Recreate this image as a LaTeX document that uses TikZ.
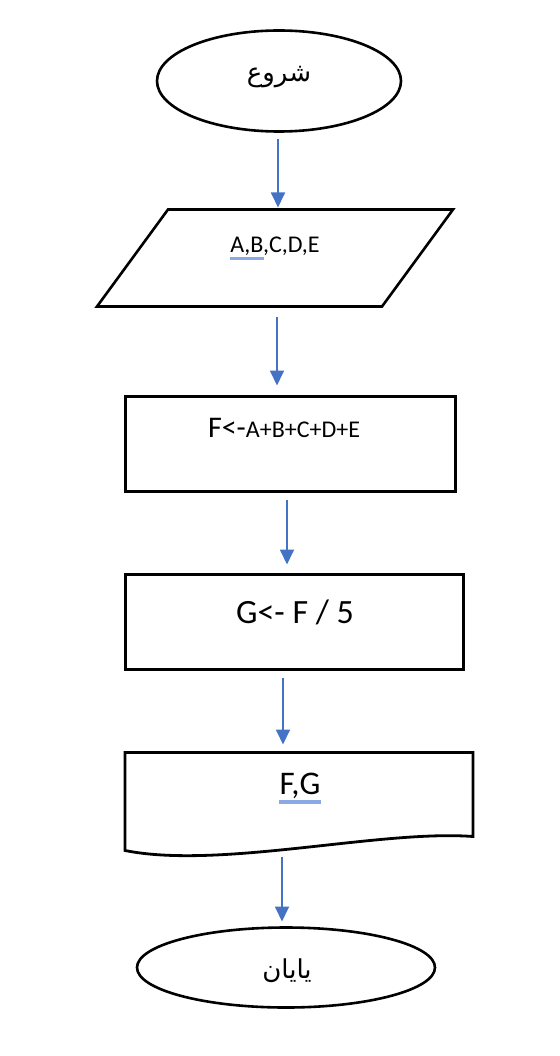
\documentclass[tikz,border=0pt]{standalone}
\usepackage{fontspec}
\setmainfont{Carlito}
\newfontfamily\arabicfont[Script=Arabic]{DejaVu Sans}
\TeXXeTstate=1
\usetikzlibrary{arrows.meta,positioning,shapes.geometric}
\definecolor{FlowBlue}{HTML}{4472C4}
\definecolor{SpellBlue}{HTML}{8AAAE5}

\begin{document}
\begin{tikzpicture}[
    terminal/.style={draw=black,ellipse,line width=2.6pt,inner sep=0pt,outer sep=0pt},
    ioshape/.style={rectangle,minimum width=356pt,minimum height=97pt,inner sep=0pt,outer sep=0pt},
    process/.style={draw=black,rectangle,line width=3pt,minimum height=95pt,inner sep=0pt,outer sep=0pt},
    docbox/.style={rectangle,minimum width=348pt,minimum height=84pt,inner sep=0pt,outer sep=0pt},
    lbl/.style={inner sep=0pt,font=\fontsize{24}{27}\selectfont},
    arlbl/.style={inner sep=0pt,font=\arabicfont\fontsize{26}{30}\selectfont},
    flow/.style={-{Triangle[length=15pt,width=14pt]},line width=1.8pt,FlowBlue},
    squig/.style={SpellBlue,line width=2.5pt}
  ]
    \useasboundingbox (0,0) rectangle (559pt,-1056pt);

    \node[terminal,minimum width=244pt,minimum height=101pt] (start) at (279pt,-81pt) {};
    \node[ioshape,below=78pt of start,xshift=-4pt] (in) {};
    \node[process,below=90pt of in,xshift=15pt,minimum width=330pt] (calc1) {};
    \node[process,below=83pt of calc1,xshift=4pt,minimum width=338pt] (calc2) {};
    \node[docbox,below=83pt of calc2,xshift=5pt] (out) {};
    \node[terminal,below=91pt of out,xshift=-13pt,minimum width=298pt,minimum height=80pt] (stop) {};

    % slanted input box
    \draw[line width=2.6pt,line join=miter] ([xshift=71pt]in.north west) -- (in.north east) -- ([xshift=-71pt]in.south east) -- (in.south west) -- cycle;
    % wavy bottom of the output box
    \draw[line width=2.8pt] ([yshift=-14pt]out.south west) -- (out.north west) -- (out.north east) -- (out.south east)
      .. controls ([xshift=-93pt,yshift=7pt]out.south east) and ([xshift=95pt,yshift=-33pt]out.south west) .. ([yshift=-14pt]out.south west) -- cycle;

    \node[arlbl] (startTxt) at ([yshift=4pt]start.center) {\beginR شروع\endR};
    \node[lbl] (inTxt) at ([yshift=12pt]in.center) {A,B,C,D,E};
    \node[lbl] (calc1Txt) at ([xshift=-6pt,yshift=16pt]calc1.center) {{\fontsize{30}{32}\selectfont F<-}A+B+C+D+E};
    \node[lbl,font=\fontsize{34}{37}\selectfont] (calc2Txt) at ([xshift=1pt,yshift=10pt]calc2.center) {G<- F / 5};
    \node[lbl,font=\fontsize{33}{36}\selectfont] (outTxt) at ([xshift=1pt,yshift=9pt]out.center) {F,G};
    \node[arlbl] (stopTxt) at ([xshift=1pt,yshift=-3pt]stop.center) {\beginR یایان\endR};

    \draw[squig] ([yshift=-6pt]inTxt.base west) -- ([xshift=34pt,yshift=-6pt]inTxt.base west);
    \draw[squig,line width=4pt] ([yshift=-8pt]outTxt.base west) -- ([yshift=-8pt]outTxt.base east);

    \draw[flow,shorten <=8pt,shorten >=2pt] ([xshift=-1pt]start.south) -- ([xshift=3pt]in.north);
    \draw[flow,shorten <=10pt,shorten >=11pt] ([xshift=2pt]in.south) -- ([xshift=-13pt]calc1.north);
    \draw[flow,shorten <=8pt,shorten >=10pt] ([xshift=-3pt]calc1.south) -- ([xshift=-7pt]calc2.north);
    \draw[flow,shorten <=8pt,shorten >=8pt] ([xshift=-11pt]calc2.south) -- ([xshift=-16pt]out.north);
    \draw[flow,shorten <=20pt,shorten >=6pt] ([xshift=-17pt]out.south) -- ([xshift=-4pt]stop.north);
\end{tikzpicture}
\end{document}
